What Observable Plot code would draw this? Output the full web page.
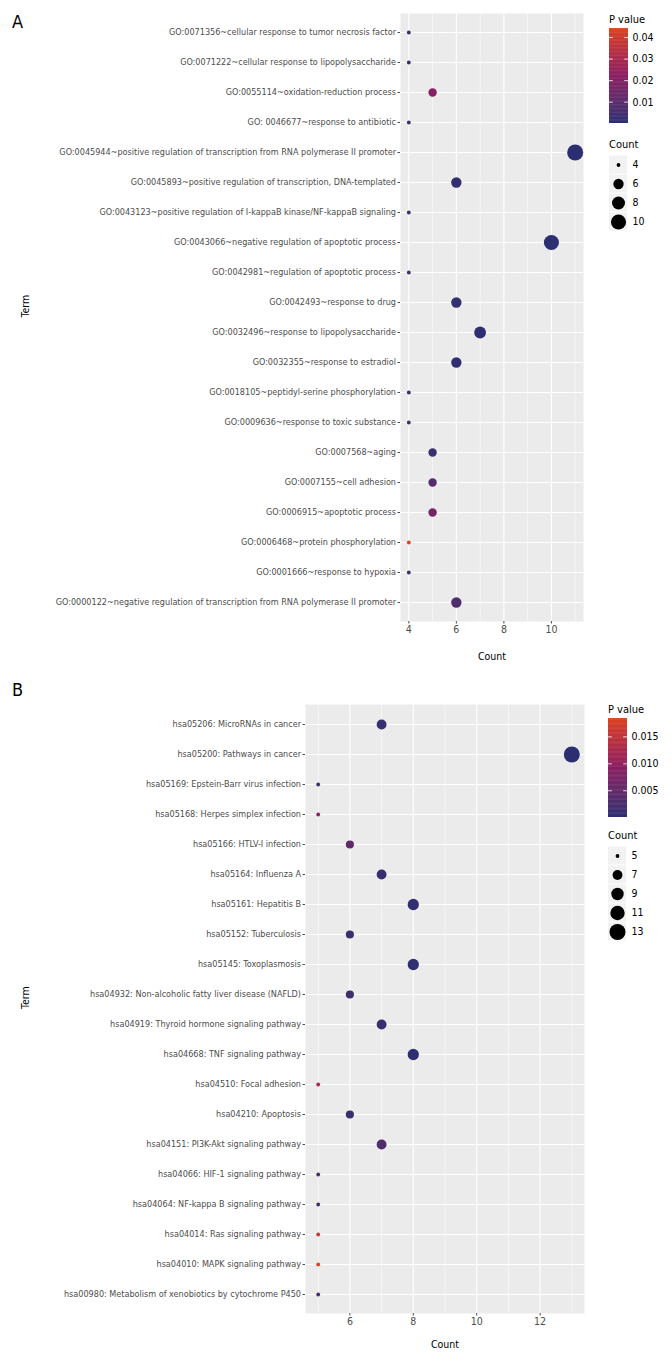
<!DOCTYPE html>
<html>
<head>
<meta charset="utf-8">
<script src="https://cdn.jsdelivr.net/npm/d3@7"></script>
<script src="https://cdn.jsdelivr.net/npm/@observablehq/plot@0.6"></script>
<style>
  html, body { margin: 0; padding: 0; background: white; }
  #page { position: relative; width: 672px; height: 1368px; background: white; overflow: hidden;
          font-family: 'DejaVu Sans Condensed', 'Liberation Sans Narrow', sans-serif; }
  .abs { position: absolute; }
  .abs svg { overflow: visible; }
  .lbl { position: absolute; color: black; white-space: nowrap; line-height: 1; }
</style>
</head>
<body>
<div id="page"></div>
<script>
const FONT = "'DejaVu Sans Condensed', 'Liberation Sans Narrow', sans-serif";
const LOW = "#2b2f72";
const MID = "#8a1f62";
const HIGH = "#dc421d";

// ---------- Panel A (GO terms) ----------
const termsA = [
  "GO:0071356~cellular response to tumor necrosis factor",
  "GO:0071222~cellular response to lipopolysaccharide",
  "GO:0055114~oxidation-reduction process",
  "GO: 0046677~response to antibiotic",
  "GO:0045944~positive regulation of transcription from RNA polymerase II promoter",
  "GO:0045893~positive regulation of transcription, DNA-templated",
  "GO:0043123~positive regulation of I-kappaB kinase/NF-kappaB signaling",
  "GO:0043066~negative regulation of apoptotic process",
  "GO:0042981~regulation of apoptotic process",
  "GO:0042493~response to drug",
  "GO:0032496~response to lipopolysaccharide",
  "GO:0032355~response to estradiol",
  "GO:0018105~peptidyl-serine phosphorylation",
  "GO:0009636~response to toxic substance",
  "GO:0007568~aging",
  "GO:0007155~cell adhesion",
  "GO:0006915~apoptotic process",
  "GO:0006468~protein phosphorylation",
  "GO:0001666~response to hypoxia",
  "GO:0000122~negative regulation of transcription from RNA polymerase II promoter"
];
const countsA = [4, 4, 5, 4, 11, 6, 4, 10, 4, 6, 7, 6, 4, 4, 5, 5, 5, 4, 4, 6];
const pA = [0.0015, 0.0020, 0.0210, 0.0025, 0.0001, 0.0012, 0.0030, 0.0003, 0.0050, 0.0015,
            0.0006, 0.0008, 0.0030, 0.0025, 0.0030, 0.0090, 0.0160, 0.0442, 0.0030, 0.0070];
const xTicksA = [4, 6, 8, 10];
const xMinorA = [5, 7, 9, 11];
const pTicksA = [0.01, 0.02, 0.03, 0.04];
const sizeKeysA = [4, 6, 8, 10];

// ---------- Panel B (KEGG pathways) ----------
const termsB = [
  "hsa05206: MicroRNAs in cancer",
  "hsa05200: Pathways in cancer",
  "hsa05169: Epstein-Barr virus infection",
  "hsa05168: Herpes simplex infection",
  "hsa05166: HTLV-I infection",
  "hsa05164: Influenza A",
  "hsa05161: Hepatitis B",
  "hsa05152: Tuberculosis",
  "hsa05145: Toxoplasmosis",
  "hsa04932: Non-alcoholic fatty liver disease (NAFLD)",
  "hsa04919: Thyroid hormone signaling pathway",
  "hsa04668: TNF signaling pathway",
  "hsa04510: Focal adhesion",
  "hsa04210: Apoptosis",
  "hsa04151: PI3K-Akt signaling pathway",
  "hsa04066: HIF-1 signaling pathway",
  "hsa04064: NF-kappa B signaling pathway",
  "hsa04014: Ras signaling pathway",
  "hsa04010: MAPK signaling pathway",
  "hsa00980: Metabolism of xenobiotics by cytochrome P450"
];
const countsB = [7, 13, 5, 5, 6, 7, 8, 6, 8, 6, 7, 8, 5, 6, 7, 5, 5, 5, 5, 5];
const pB = [0.0008, 0.00005, 0.0015, 0.0095, 0.0045, 0.0010, 0.0004, 0.0012, 0.0003, 0.0015,
            0.0010, 0.0002, 0.0125, 0.0010, 0.0030, 0.0020, 0.0018, 0.0160, 0.0184, 0.0020];
const xTicksB = [6, 8, 10, 12];
const xMinorB = [5, 7, 9, 11, 13];
const pTicksB = [0.005, 0.010, 0.015];
const sizeKeysB = [5, 7, 9, 11, 13];

const page = document.getElementById("page");

function place(el, left, top) {
  const d = document.createElement("div");
  d.className = "abs";
  d.style.left = left + "px";
  d.style.top = top + "px";
  d.appendChild(el);
  page.appendChild(d);
}
function label(text, left, top, size) {
  const d = document.createElement("div");
  d.className = "lbl";
  d.style.left = left + "px";
  d.style.top = top + "px";
  d.style.fontSize = size + "px";
  d.textContent = text;
  page.appendChild(d);
}

function rNorm(counts) {
  const lo = d3.min(counts), hi = d3.max(counts);
  return v => Math.sqrt((v - lo) / (hi - lo));
}
const rScale = {type: "linear", domain: [0, 1], range: [1.9, 8.0]};
function colorScale(p) {
  const [lo, hi] = d3.extent(p);
  return {type: "linear", domain: [lo, (lo + hi) / 2, hi], range: [LOW, MID, HIGH], interpolate: d3.interpolateLab};
}

function panel({terms, counts, p, domain, ticks, minor, top, plotTop, plotBottom, left, right, yFont, xFont, titleFont, xTitleOffset}) {
  const height = 675;
  const data = terms.map((t, i) => ({term: t, count: counts[i], p: p[i]}));
  const norm = rNorm(counts);
  const chart = Plot.plot({
    width: 600,
    height,
    marginLeft: left,
    marginRight: 600 - right,
    marginTop: plotTop - top,
    marginBottom: height - (plotBottom - top),
    style: {fontFamily: FONT, fontSize: "10px", background: "transparent", overflow: "visible"},
    x: {domain, label: null},
    y: {type: "point", domain: terms, padding: 0.6, label: null},
    r: rScale,
    color: colorScale(p),
    marks: [
      Plot.frame({fill: "#EBEBEB"}),
      Plot.gridX(minor, {stroke: "white", strokeOpacity: 1, strokeWidth: 0.55}),
      Plot.gridX(ticks, {stroke: "white", strokeOpacity: 1, strokeWidth: 1.1}),
      Plot.gridY({stroke: "white", strokeOpacity: 1, strokeWidth: 1.1}),
      Plot.dot(data, {x: "count", y: "term", r: d => norm(d.count), fill: "p"}),
      Plot.axisX(ticks, {tickSize: 2.5, tickPadding: 2, color: "#4D4D4D", fontSize: xFont, label: null}),
      Plot.axisY({tickSize: 2.5, tickPadding: 2, color: "#4D4D4D", fontSize: yFont, label: null}),
      Plot.text(["Count"], {text: d => d, frameAnchor: "bottom", dy: xTitleOffset, fontSize: titleFont, fill: "black"}),
      Plot.text(["Term"], {text: d => d, frameAnchor: "left", dx: -(left - 25), rotate: -90, fontSize: titleFont, fill: "black"})
    ]
  });
  place(chart, 0, top);
}

function colorbar({p, ticks, fmt, left, top, h}) {
  const ext = d3.extent(p);
  const N = 120;
  const step = (ext[1] - ext[0]) / N;
  const slices = d3.range(N).map(i => [ext[0] + i * step, ext[0] + (i + 1) * step]);
  const bar = Plot.plot({
    width: 60, height: h,
    marginLeft: 0, marginRight: 41, marginTop: 0, marginBottom: 0,
    style: {fontFamily: FONT, fontSize: "10px", background: "transparent", overflow: "visible"},
    x: {domain: [0, 1], axis: null},
    y: {domain: ext, axis: null},
    color: colorScale(p),
    marks: [
      Plot.rect(slices, {x1: 0, x2: 1, y1: d => d[0], y2: d => Math.min(ext[1], d[1] + step * 0.6), fill: d => (d[0] + d[1]) / 2}),
      Plot.ruleY(ticks, {x1: 0, x2: 0.2, stroke: "white", strokeWidth: 0.8}),
      Plot.ruleY(ticks, {x1: 0.8, x2: 1, stroke: "white", strokeWidth: 0.8}),
      Plot.text(ticks, {x: 1, y: d => d, text: fmt, dx: 4, textAnchor: "start", fontSize: 10.5, fill: "black"})
    ]
  });
  place(bar, left, top);
}

function sizeLegend({counts, keys, left, top}) {
  const norm = rNorm(counts);
  const leg = Plot.plot({
    width: 60, height: keys.length * 19,
    marginLeft: 0, marginRight: 42, marginTop: 0, marginBottom: 0,
    style: {fontFamily: FONT, fontSize: "10px", background: "transparent", overflow: "visible"},
    x: {type: "band", domain: ["k"], padding: 0, axis: null},
    y: {type: "band", domain: keys, padding: 0, axis: null},
    r: rScale,
    marks: [
      Plot.cell(keys, {x: () => "k", y: d => d, fill: "#F2F2F2", insetTop: 0.5, insetBottom: 0.5}),
      Plot.dot(keys, {x: () => "k", y: d => d, r: d => norm(d), fill: "black"}),
      Plot.text(keys, {x: () => "k", y: d => d, text: d => String(d), dx: 14, textAnchor: "start", fontSize: 10.5, fill: "black"})
    ]
  });
  place(leg, left, top);
}

// Panel A
label("A", 12, 13, 18);
panel({terms: termsA, counts: countsA, p: pA, domain: [3.65, 11.35], ticks: xTicksA, minor: xMinorA,
       top: 0, plotTop: 13, plotBottom: 621, left: 400, right: 583,
       yFont: 9, xFont: 10.5, titleFont: 10.5, xTitleOffset: 38});
label("P value", 609, 14, 11);
colorbar({p: pA, ticks: pTicksA, fmt: d => d.toFixed(2), left: 609, top: 28, h: 95});
label("Count", 609, 139, 11);
sizeLegend({counts: countsA, keys: sizeKeysA, left: 609, top: 154.5});

// Panel B
label("B", 12, 681, 18);
panel({terms: termsB, counts: countsB, p: pB, domain: [4.6, 13.4], ticks: xTicksB, minor: xMinorB,
       top: 690, plotTop: 704, plotBottom: 1313, left: 305, right: 584,
       yFont: 9, xFont: 10.5, titleFont: 10.5, xTitleOffset: 34});
label("P value", 608, 704, 11);
colorbar({p: pB, ticks: pTicksB, fmt: d => d.toFixed(3), left: 608, top: 718, h: 99});
label("Count", 608, 830, 11);
sizeLegend({counts: countsB, keys: sizeKeysB, left: 608, top: 845.5});
</script>
</body>
</html>
